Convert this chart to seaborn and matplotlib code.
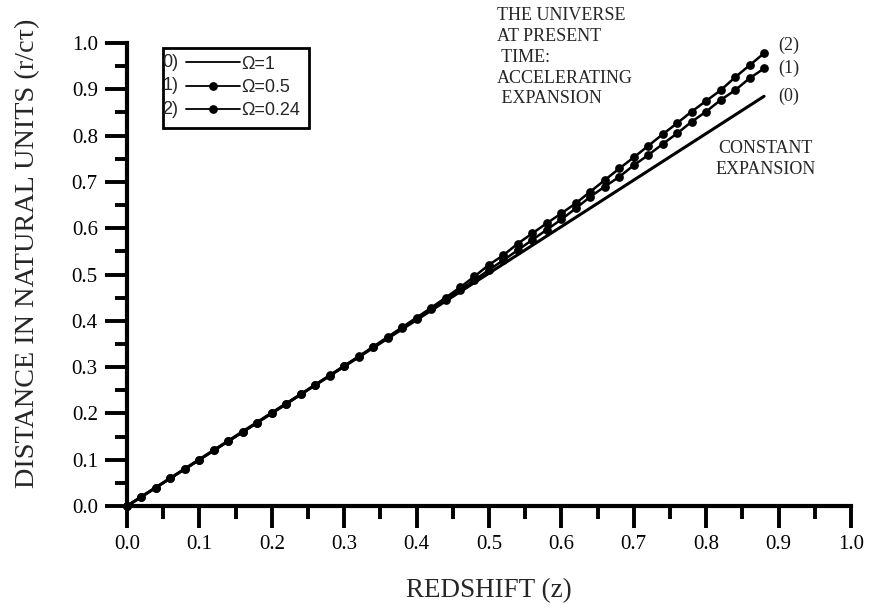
import numpy as np
import pandas as pd
import matplotlib
matplotlib.use("Agg")
import matplotlib.pyplot as plt
import seaborn as sns
from matplotlib.legend_handler import HandlerLine2D
from matplotlib.text import Text
from matplotlib.ticker import MultipleLocator, FormatStrFormatter

# Values
redshift = [0.00, 0.02, 0.04, 0.06, 0.08, 0.10, 0.12, 0.14, 0.16, 0.18,
            0.20, 0.22, 0.24, 0.26, 0.28, 0.30, 0.32, 0.34, 0.36, 0.38,
            0.40, 0.42, 0.44, 0.46, 0.48, 0.50, 0.52, 0.54, 0.56, 0.58,
            0.60, 0.62, 0.64, 0.66, 0.68, 0.70, 0.72, 0.74, 0.76, 0.78,
            0.80, 0.82, 0.84, 0.86, 0.88]

# (1) Omega = 0.5
dist_05 = [0.000, 0.020, 0.040, 0.060, 0.080, 0.100, 0.120, 0.140, 0.160, 0.180,
           0.200, 0.220, 0.241, 0.261, 0.281, 0.302, 0.322, 0.343, 0.363, 0.384,
           0.405, 0.425, 0.446, 0.467, 0.488, 0.510, 0.531, 0.553, 0.575, 0.597,
           0.619, 0.643, 0.668, 0.690, 0.711, 0.736, 0.758, 0.782, 0.805, 0.830,
           0.852, 0.877, 0.898, 0.924, 0.945]

# (2) Omega = 0.24
dist_024 = [0.000, 0.020, 0.040, 0.060, 0.080, 0.100, 0.120, 0.140, 0.160, 0.180,
            0.201, 0.221, 0.241, 0.262, 0.282, 0.303, 0.323, 0.344, 0.365, 0.386,
            0.407, 0.428, 0.450, 0.472, 0.496, 0.521, 0.542, 0.567, 0.589, 0.611,
            0.632, 0.654, 0.679, 0.704, 0.729, 0.753, 0.778, 0.803, 0.827, 0.852,
            0.875, 0.898, 0.926, 0.952, 0.978]

# (0) Omega = 1, constant expansion
z_const = [0.00, 0.88]
dist_const = [0.000, 0.885]

legend_labels = ["Ω=1", "Ω=0.5", "Ω=0.24"]
legend_prefix = ["0)", "1)", "2)"]
end_labels = ["(0)", "(1)", "(2)"]


class PrefixHandler(HandlerLine2D):
    # legend line with a "0)" style tag in front of it
    def __init__(self, prefix, **kw):
        super().__init__(**kw)
        self.prefix = prefix

    def create_artists(self, legend, orig_handle, xdescent, ydescent,
                       width, height, fontsize, trans):
        off = 0.22 * width
        artists = super().create_artists(legend, orig_handle, xdescent - off, ydescent,
                                         width - off, height, fontsize, trans)
        t = Text(-xdescent - 0.5 * fontsize, height / 2 - ydescent, self.prefix,
                 ha="left", va="center", fontsize=fontsize,
                 family="Liberation Sans", transform=trans)
        return list(artists) + [t]


sns.set_theme(style="ticks")
plt.rcParams["font.family"] = ["Liberation Serif", "DejaVu Serif"]

fig = plt.figure(figsize=(8.71, 6.11), dpi=100)
ax = fig.add_axes([0.1458, 0.1718, 0.8312, 0.7578])

sns.lineplot(x=z_const, y=dist_const, color="black", lw=2.2, ax=ax)
sns.lineplot(x=redshift, y=dist_05, color="black", lw=1.8, marker="o",
             markersize=6.3, markeredgewidth=0, ax=ax)
sns.lineplot(x=redshift, y=dist_024, color="black", lw=1.8, marker="o",
             markersize=6.3, markeredgewidth=0, ax=ax)
for ln in ax.lines:
    ln.set_clip_on(False)

ax.set_xlim(0, 1)
ax.set_ylim(0, 1)
ax.spines[["top", "right"]].set_visible(False)
for s in ["left", "bottom"]:
    ax.spines[s].set_linewidth(3)
    ax.spines[s].set_color("black")

ax.xaxis.set_major_locator(MultipleLocator(0.1))
ax.xaxis.set_minor_locator(MultipleLocator(0.05))
ax.yaxis.set_major_locator(MultipleLocator(0.1))
ax.yaxis.set_minor_locator(MultipleLocator(0.05))
ax.xaxis.set_major_formatter(FormatStrFormatter("%.1f"))
ax.yaxis.set_major_formatter(FormatStrFormatter("%.1f"))
ax.tick_params(which="major", direction="out", length=16, width=2.8,
               color="black", labelsize=15, labelcolor="black", pad=5)
ax.tick_params(which="minor", direction="out", length=9, width=2.8, color="black")

ax.set_xlabel("REDSHIFT (z)", fontsize=19.5)
ax.set_ylabel("DISTANCE IN NATURAL UNITS (r/cτ)", fontsize=20.3)
ax.xaxis.set_label_coords(0.5, -0.155)
ax.yaxis.set_label_coords(-0.12, 0.545)

# labels at the end of each curve
ends = [(z_const[-1], dist_const[-1]), (redshift[-1], dist_05[-1]), (redshift[-1], dist_024[-1])]
end_dy = [0, 0, 6]
for lab, (xe, ye), dy in zip(end_labels, ends, end_dy):
    ax.annotate(lab, (xe, ye), xytext=(10, dy), textcoords="offset points",
                fontsize=13, va="center", ha="left", annotation_clip=False)

ax.text(0.511, 1.078, "THE UNIVERSE\nAT PRESENT\n TIME:\nACCELERATING\n EXPANSION",
        ha="left", va="top", fontsize=13, linespacing=1.3, clip_on=False)
ax.text(0.882, 0.79, "CONSTANT\nEXPANSION", ha="center", va="top",
        fontsize=13, linespacing=1.3)

handles = ax.lines[:3]
leg = ax.legend(handles, legend_labels,
                handler_map={h: PrefixHandler(p, numpoints=1) for h, p in zip(handles, legend_prefix)},
                loc="upper left", bbox_to_anchor=(0.05, 0.99), borderaxespad=0,
                frameon=True, fancybox=False, framealpha=1, edgecolor="black",
                prop={"family": "Liberation Sans", "size": 13},
                handlelength=3.8, handletextpad=0.1, borderpad=0.45, labelspacing=0.35)
leg.get_frame().set_linewidth(2)
for lh in leg.get_lines():
    lh.set_linewidth(1.3)

fig.savefig("out.png", dpi=100)
